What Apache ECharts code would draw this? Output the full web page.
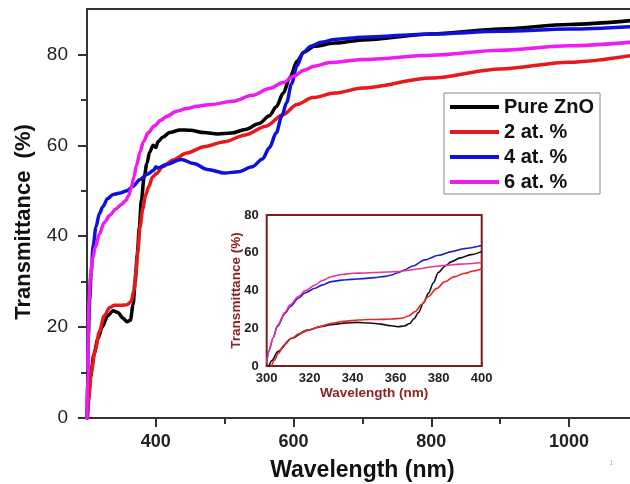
<!DOCTYPE html>
<html>
<head>
<meta charset="utf-8">
<script src="https://cdn.jsdelivr.net/npm/echarts@6/dist/echarts.min.js"></script>
<style>
  html, body { margin: 0; padding: 0; background: #fff; }
  #chart { width: 630px; height: 484px; }
</style>
</head>
<body>
<div id="chart"></div>
<script>
// ---- Transmittance spectra, 300–1100 nm ----
const seriesNames = ['Pure ZnO', '2 at. %', '4 at. %', '6 at. %'];

const wlPure = [300, 302, 305, 310, 316, 322, 330, 338, 345, 352, 358, 363, 367, 370, 373, 376, 379, 383, 387, 391, 396, 400, 403, 410, 420, 435, 450, 470, 490, 510, 530, 550, 565, 575, 585, 595, 605, 615, 630, 660, 700, 800, 900, 1000, 1100];
const tPure  = [0, 4, 9, 14, 17.5, 20, 22.5, 23.6, 23.2, 22, 21.2, 21.5, 25, 30, 36, 42, 48, 53, 56, 58.5, 60, 59.5, 60.8, 61.8, 62.8, 63.4, 63.3, 62.8, 62.5, 62.7, 63.5, 64.8, 66.5, 68.5, 71.5, 75, 78.5, 80.5, 81.8, 82.5, 83.2, 84.5, 85.6, 86.6, 87.6];

const wl2 = [301, 303, 306, 312, 318, 325, 333, 340, 350, 358, 364, 368, 371, 374, 377, 381, 385, 390, 395, 401, 410, 425, 445, 470, 500, 530, 560, 585, 605, 628, 660, 700, 800, 900, 1000, 1100];
const t2  = [0, 5, 10, 15, 19, 22.5, 24.3, 24.8, 24.8, 24.9, 25.6, 28, 32, 37, 42, 46, 49, 51, 53, 53.8, 55.3, 56.8, 58.3, 59.7, 60.8, 62.3, 64.2, 66.8, 69, 70.5, 71.5, 72.6, 74.8, 76.8, 78.3, 80];

const wl4 = [300, 301, 302, 304, 306, 309, 313, 318, 323, 330, 338, 348, 358, 367, 377, 387, 397, 400, 403, 415, 437, 455, 475, 500, 520, 540, 555, 565, 575, 583, 590, 597, 605, 614, 625, 640, 660, 700, 800, 900, 1000, 1100];
const t4  = [0, 10, 18, 26, 32, 38, 42, 45, 46.5, 48.3, 49.2, 49.5, 50, 51, 52.5, 53.6, 54.5, 55.3, 55, 55.8, 56.9, 56, 54.7, 53.9, 54.2, 55.3, 57, 59.5, 62.8, 66.5, 69.4, 73.5, 77.5, 80.4, 81.8, 82.7, 83.3, 83.8, 84.5, 85.1, 85.6, 86.2];

const wl6 = [300, 301, 302, 303, 305, 308, 312, 318, 325, 333, 342, 350, 356, 360, 364, 368, 372, 377, 382, 389, 398, 407, 416, 430, 445, 460, 480, 512, 540, 565, 585, 600, 615, 630, 653, 700, 800, 900, 1000, 1100];
const t6  = [0, 10, 20, 26, 31, 35, 37.5, 40.5, 43, 44.6, 46, 47, 47.8, 48.8, 50.5, 53, 55.6, 58.5, 60.8, 62.8, 64.3, 65.5, 66.4, 67.5, 68.1, 68.6, 69, 69.7, 71, 72.5, 73.8, 75.2, 76.5, 77.4, 78.2, 78.9, 79.8, 80.9, 81.9, 82.8];

// ---- Close-up, 300–400 nm ----
const wlZoomPure = [301, 302.5, 305, 311.6, 319, 325, 330, 336, 342, 348, 353, 358, 361, 364, 366.5, 368.5, 370.5, 373, 375.2, 377.5, 379.8, 383, 386, 390, 395, 400];
const tZoomPure  = [0, 3, 7.5, 14.7, 19, 20.8, 21.9, 22.7, 23.1, 22.8, 22.2, 21.3, 20.8, 21.2, 22.5, 25, 28.2, 33.5, 38.5, 44, 49.5, 53, 55.3, 57.3, 59, 60.6];

const wlZoom2 = [302.3, 303.5, 305.4, 308, 311.6, 315, 319.4, 325, 330.2, 336, 342.6, 348, 353.5, 358, 362.8, 366, 369, 372, 375, 379, 382.9, 387, 392.2, 396, 400];
const tZoom2  = [0, 3, 6.7, 11, 14.7, 17, 19, 21, 22.6, 23.7, 24.4, 24.6, 24.7, 24.9, 25.3, 26.5, 28.8, 32.5, 36.7, 41, 44.7, 47.2, 49.1, 50.3, 51.5];

const wlZoom4 = [300, 301, 303, 305, 308.5, 311, 314.7, 318, 322.5, 326, 330, 335, 339.5, 345, 350, 355, 358, 361, 364, 368, 373.6, 380, 386, 392, 400];
const tZoom4  = [2, 8, 15, 21, 27.9, 31.5, 35.9, 38.8, 41.2, 43, 44.7, 45.5, 45.9, 46.3, 46.8, 47.5, 48.2, 49.4, 50.9, 53, 56.2, 58.7, 60.6, 62.2, 63.8];

const wlZoom6 = [300, 301, 303, 305, 308.5, 311, 314.7, 318, 322.5, 326, 330, 335, 340, 345, 350, 356, 361, 366, 371, 377, 383, 390, 400];
const tZoom6  = [2, 8, 15, 21.5, 28.5, 32.5, 36.8, 40, 42.9, 45.3, 47.3, 48.5, 49.1, 49.3, 49.5, 49.8, 50, 50.7, 51.5, 52.6, 53.3, 54, 54.8];

// ---- Axis ticks ----
const mainXMajor = [400, 600, 800, 1000];
const mainXMinor = [500, 700, 900];
const mainYMajor = [0, 20, 40, 60, 80];
const mainYMinor = [10, 30, 50, 70];

const FONT = '"Liberation Sans", Arial, Helvetica, sans-serif';
const mainColors = ['#000000', '#e8191a', '#1010dc', '#ee1cee'];
const zoomColors = ['#111111', '#e02a2a', '#2020c8', '#e8378c'];
const frameRed = '#7b1e1e';
const titleRed = '#8b2323';

const zip = (xs, ys) => xs.map((x, i) => [x, ys[i]]);
const mainData = [zip(wlPure, tPure), zip(wl2, t2), zip(wl4, t4), zip(wl6, t6)];
const zoomData = [zip(wlZoomPure, tZoomPure), zip(wlZoom2, tZoom2), zip(wlZoom4, tZoom4), zip(wlZoom6, tZoom6)];

const axisDark = '#333';
const plain = v => String(v);

const option = {
  animation: false,
  backgroundColor: '#fff',
  textStyle: { fontFamily: FONT },
  grid: [
    { left: 87, top: 9, width: 550.8, height: 409, containLabel: false, outerBoundsMode: 'none' },
    { left: 266.7, top: 215, width: 215, height: 151, show: true, backgroundColor: '#fff',
      borderColor: frameRed, borderWidth: 2, z: 5, outerBoundsMode: 'none' }
  ],
  xAxis: [
    { // main wavelength axis
      type: 'value', gridIndex: 0, min: 300, max: 1100, position: 'bottom',
      axisLine: { show: true, lineStyle: { color: axisDark, width: 2 } },
      axisTick: { show: true, inside: false, length: 9, customValues: mainXMajor, lineStyle: { color: axisDark, width: 2 } },
      axisLabel: { show: true, customValues: mainXMajor, formatter: plain, margin: 15, fontSize: 18, fontWeight: 'bold', color: '#222', fontFamily: FONT },
      splitLine: { show: false },
      name: 'Wavelength (nm)', nameLocation: 'middle', nameGap: 41, nameMoveOverlap: false,
      nameTextStyle: { fontSize: 23, fontWeight: 'bold', color: '#111', fontFamily: FONT }
    },
    { // minor ticks
      type: 'value', gridIndex: 0, min: 300, max: 1100, position: 'bottom',
      axisLine: { show: false },
      axisTick: { show: true, inside: false, length: 6, customValues: mainXMinor, lineStyle: { color: axisDark, width: 2 } },
      axisLabel: { show: false }, splitLine: { show: false }
    },
    { // top frame line
      type: 'value', gridIndex: 0, min: 300, max: 1100, position: 'top',
      axisLine: { show: true, lineStyle: { color: axisDark, width: 2 } },
      axisTick: { show: false }, axisLabel: { show: false }, splitLine: { show: false }
    },
    { // close-up wavelength axis
      type: 'value', gridIndex: 1, min: 300, max: 400, interval: 20, position: 'bottom',
      axisLine: { show: true, lineStyle: { color: frameRed, width: 2 } },
      axisTick: { show: true, inside: true, length: 4, lineStyle: { color: frameRed, width: 1.5 } },
      axisLabel: { margin: 6, fontSize: 13, fontWeight: 'bold', color: '#222', fontFamily: FONT },
      splitLine: { show: false },
      name: 'Wavelength (nm)', nameLocation: 'middle', nameGap: 19,
      nameTextStyle: { fontSize: 13.5, fontWeight: 'bold', color: titleRed, fontFamily: FONT }
    }
  ],
  yAxis: [
    { // main transmittance axis
      type: 'value', gridIndex: 0, min: 0, max: 90, position: 'left',
      axisLine: { show: true, lineStyle: { color: axisDark, width: 2 } },
      axisTick: { show: true, inside: false, length: 9, customValues: mainYMajor, lineStyle: { color: axisDark, width: 2 } },
      axisLabel: { show: true, customValues: mainYMajor, margin: 19, fontSize: 19, color: '#222', fontFamily: FONT },
      splitLine: { show: false }
    },
    { // minor ticks
      type: 'value', gridIndex: 0, min: 0, max: 90, position: 'left',
      axisLine: { show: false },
      axisTick: { show: true, inside: false, length: 6, customValues: mainYMinor, lineStyle: { color: axisDark, width: 2 } },
      axisLabel: { show: false }, splitLine: { show: false }
    },
    { // close-up transmittance axis
      type: 'value', gridIndex: 1, min: 0, max: 80, interval: 20, position: 'left',
      axisLine: { show: true, lineStyle: { color: frameRed, width: 2 } },
      axisTick: { show: true, inside: true, length: 4, lineStyle: { color: frameRed, width: 1.5 } },
      axisLabel: { margin: 8, fontSize: 13, fontWeight: 'bold', color: '#222', fontFamily: FONT },
      splitLine: { show: false },
      name: 'Transmittance (%)', nameLocation: 'middle', nameGap: 23, nameRotate: 90,
      nameMoveOverlap: false,
      nameTextStyle: { fontSize: 13.5, fontWeight: 'bold', color: titleRed, fontFamily: FONT }
    }
  ],
  legend: {
    data: seriesNames,
    orient: 'vertical', left: 444, top: 93,
    padding: [4, 6, 2, 6],
    itemWidth: 49, itemHeight: 4, itemGap: 5, icon: 'rect',
    borderColor: '#888', borderWidth: 1, backgroundColor: '#fff',
    textStyle: { fontSize: 20, fontWeight: 'bold', color: '#111', lineHeight: 20, fontFamily: FONT }
  },
  graphic: [
    { // main y-axis title
      type: 'text', x: 24, y: 222, rotation: Math.PI / 2,
      style: { text: 'Transmittance  (%)', fontSize: 22, fontWeight: 'bold', fill: '#111',
               fontFamily: FONT, align: 'center', verticalAlign: 'middle' }
    },
    { type: 'text', left: 609, top: 459, style: { text: '1', fontSize: 8, fill: '#bbb', fontFamily: FONT } }
  ],
  series: [
    ...seriesNames.map((name, i) => ({
      name, type: 'line', xAxisIndex: 0, yAxisIndex: 0,
      data: mainData[i], showSymbol: false, symbol: 'none',
      smooth: 0.3, smoothMonotone: 'x',
      lineStyle: { color: mainColors[i], width: 3.5, cap: 'round', join: 'round' },
      itemStyle: { color: mainColors[i] }, z: 3
    })),
    ...seriesNames.map((name, i) => ({
      name: name + ' (300–400 nm)', type: 'line', xAxisIndex: 3, yAxisIndex: 2,
      data: zoomData[i], showSymbol: false, symbol: 'none',
      smooth: 0.3, smoothMonotone: 'x',
      lineStyle: { color: zoomColors[i], width: 1.6 },
      itemStyle: { color: zoomColors[i] }, z: 6
    }))
  ]
};

const chart = echarts.init(document.getElementById('chart'), null, { renderer: 'canvas' });
chart.setOption(option);
</script>
</body>
</html>
